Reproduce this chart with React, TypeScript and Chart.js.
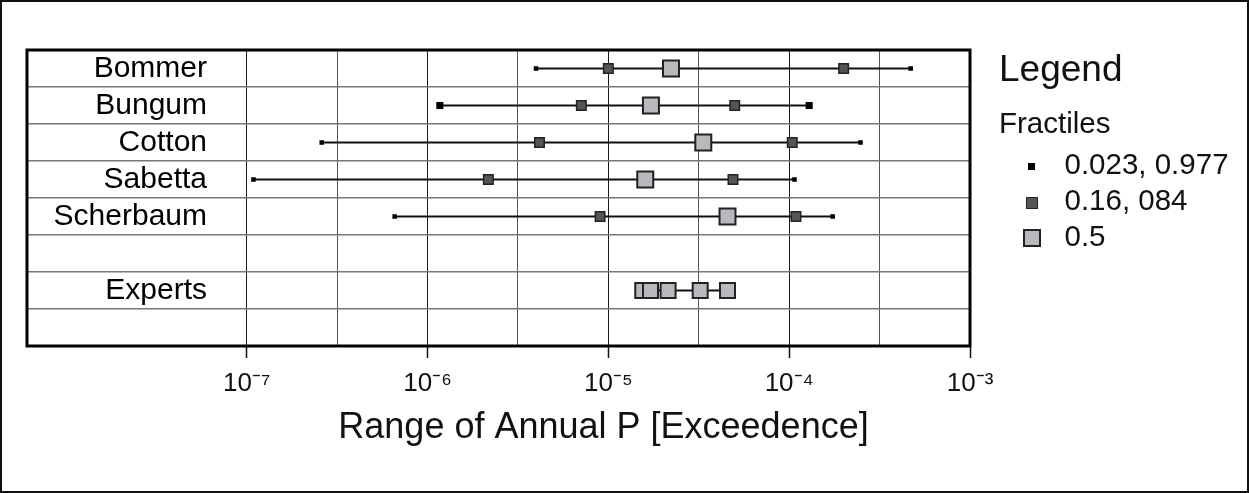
import React, { useEffect, useRef } from 'react';
import { Chart, registerables } from 'chart.js';

Chart.register(...registerables);

// ---------- data ----------
const rowLabels = ['Bommer', 'Bungum', 'Cotton', 'Sabetta', 'Scherbaum', ' ', 'Experts', '  '];
const models = ['Bommer', 'Bungum', 'Cotton', 'Sabetta', 'Scherbaum'];
const p023 = [3.98e-6, 1.17e-6, 2.6e-7, 1.09e-7, 6.58e-7];
const p16 = [1.0e-5, 7.09e-6, 4.16e-6, 2.17e-6, 9.0e-6];
const p50 = [2.22e-5, 1.72e-5, 3.35e-5, 1.6e-5, 4.56e-5];
const p84 = [2.0e-4, 5.0e-5, 1.04e-4, 4.89e-5, 1.09e-4];
const p977 = [4.7e-4, 1.29e-4, 2.48e-4, 1.07e-4, 1.74e-4];
const expertsLabel = 'Experts';
const expertMedians = [1.55e-5, 1.71e-5, 2.14e-5, 3.22e-5, 4.56e-5];
const decadeExponents = [-7, -6, -5, -4, -3];
const halfDecadeExponents = [-6.5, -5.5, -4.5, -3.5];
const axisMinExponent = -8.215;
const axisTitle = 'Range of Annual P [Exceedence]';
const legendTitle = 'Legend';
const legendSubtitle = 'Fractiles';
const fractileLabels = ['0.023, 0.977', '0.16, 084', '0.5'];

// ---------- styles ----------
const FONT = "'Liberation Sans', Arial, Helvetica, sans-serif";
const BLACK = '#000000';
const DARK = '#555558';
const LIGHT = '#b9b9bd';
const EDGE = '#222222';
const LINE = '#111111';
const R_EXT = 3.2;
const R_EXT_BIG = 5;
const R_MID = 6.7;
const R_MED = 11.3;
const R_EXPERT = 10.6;
const bigExtremeModels = ['Bungum'];
const Y_LABEL_SIZE = 30;
const LABEL_RIGHT_OFFSET = 180; // right edge of row labels, from the plot's left edge
const PLOT_LEFT = 27;

const SUP: Record<string, string> = {
  '-': '\u207B', '0': '\u2070', '1': '\u00B9', '2': '\u00B2', '3': '\u00B3',
  '4': '\u2074', '5': '\u2075', '6': '\u2076', '7': '\u2077', '8': '\u2078', '9': '\u2079',
};
const sup = (s: string) => s.split('').map((c) => SUP[c] ?? c).join('');

const gridValues = [...decadeExponents, ...halfDecadeExponents]
  .sort((a, b) => a - b)
  .map((e) => Math.pow(10, e));

const isDecade = (v: number) => {
  const l = Math.log10(v);
  return Math.abs(l - Math.round(l)) < 1e-6;
};

const framePlugin = {
  id: 'frame',
  afterDraw(chart: any) {
    const { ctx, chartArea: a } = chart;
    ctx.save();
    ctx.strokeStyle = '#000';
    ctx.lineWidth = 3;
    ctx.strokeRect(a.left, a.top, a.right - a.left, a.bottom - a.top);
    ctx.restore();
  },
};

export default function App() {
  const ref = useRef<HTMLCanvasElement | null>(null);

  useEffect(() => {
    if (!ref.current) return;

    // widest row label, so mirrored labels can be right-aligned
    const mctx = document.createElement('canvas').getContext('2d')!;
    mctx.font = `${Y_LABEL_SIZE}px ${FONT}`;
    const widest = Math.max(...rowLabels.map((l) => mctx.measureText(l).width));

    const modelDatasets = models.map((m, i) => {
      const vals = [p023[i], p16[i], p50[i], p84[i], p977[i]];
      const ext = bigExtremeModels.includes(m) ? R_EXT_BIG : R_EXT;
      return {
        label: m,
        data: vals.map((v) => ({ x: v, y: m })),
        showLine: true,
        borderColor: LINE,
        borderWidth: 2,
        pointStyle: 'rect',
        pointRadius: [ext, R_MID, R_MED, R_MID, ext],
        pointBackgroundColor: [BLACK, DARK, LIGHT, DARK, BLACK],
        pointBorderColor: [BLACK, EDGE, EDGE, EDGE, BLACK],
        pointBorderWidth: [0, 1.5, 2, 1.5, 0],
      };
    });

    const expertsDataset = {
      label: expertsLabel,
      data: expertMedians.map((v) => ({ x: v, y: expertsLabel })),
      showLine: true,
      borderColor: LINE,
      borderWidth: 2,
      pointStyle: 'rect',
      pointRadius: R_EXPERT,
      pointBackgroundColor: LIGHT,
      pointBorderColor: EDGE,
      pointBorderWidth: 2,
    };

    const chart = new Chart(ref.current, {
      type: 'scatter',
      data: { datasets: [...modelDatasets, expertsDataset] as any },
      plugins: [framePlugin],
      options: {
        animation: false,
        responsive: false,
        events: [],
        layout: { padding: { top: 50, bottom: 43.8, left: 0, right: 0 } },
        plugins: {
          legend: { display: false },
          tooltip: { enabled: false },
          title: {
            display: true,
            position: 'bottom',
            text: axisTitle,
            color: '#111',
            padding: 0,
            font: { family: FONT, size: 36, weight: 'normal', lineHeight: 1.2 },
          },
        },
        scales: {
          x: {
            type: 'logarithmic',
            min: Math.pow(10, axisMinExponent),
            max: Math.pow(10, decadeExponents[decadeExponents.length - 1]),
            afterBuildTicks: (scale: any) => {
              scale.ticks = gridValues.map((v) => ({ value: v, major: false }));
            },
            ticks: {
              autoSkip: false,
              maxRotation: 0,
              minRotation: 0,
              padding: 10,
              color: '#111',
              font: { family: FONT, size: 26, lineHeight: 1.2 },
              callback: (value: any) => {
                const v = Number(value);
                if (!isDecade(v)) return '';
                return '10' + sup(String(Math.round(Math.log10(v))));
              },
            },
            grid: {
              color: (ctx: any) => (ctx.tick && isDecade(ctx.tick.value) ? '#1a1a1a' : '#555'),
              lineWidth: 1,
              tickLength: 12,
              tickWidth: 1.5,
              tickColor: (ctx: any) => (ctx.tick && isDecade(ctx.tick.value) ? '#111' : 'rgba(0,0,0,0)'),
            },
            border: { display: false },
            afterFit: (s: any) => {
              s.height = 60;
            },
          },
          y: {
            type: 'category',
            labels: rowLabels,
            offset: true,
            grid: { offset: true, color: '#777', lineWidth: 1.5, drawTicks: false },
            border: { display: false },
            ticks: {
              autoSkip: false,
              mirror: true,
              crossAlign: 'far',
              padding: LABEL_RIGHT_OFFSET - widest,
              color: '#000',
              font: { family: FONT, size: Y_LABEL_SIZE, lineHeight: 1.2 },
            },
            afterFit: (s: any) => {
              s.width = PLOT_LEFT;
            },
          },
          y2: {
            type: 'linear',
            position: 'right',
            display: true,
            grid: { display: false, drawTicks: false },
            ticks: { display: false },
            border: { display: false },
            afterFit: (s: any) => {
              s.width = 237;
            },
          },
        },
      } as any,
    });

    return () => chart.destroy();
  }, []);

  const textBase: React.CSSProperties = {
    position: 'absolute',
    fontFamily: FONT,
    color: '#111',
    lineHeight: 1,
    whiteSpace: 'nowrap',
  };
  const markerStyles: React.CSSProperties[] = [
    { width: 7, height: 7, background: BLACK, boxSizing: 'border-box' },
    { width: 12, height: 12, background: DARK, border: `1.5px solid ${EDGE}`, boxSizing: 'border-box' },
    { width: 18, height: 18, background: LIGHT, border: `2px solid ${EDGE}`, boxSizing: 'border-box' },
  ];
  const itemCenters = [166.7, 203, 238];
  const itemBaselines = [174.3, 210, 246];
  const ITEM_SIZE = 29.5;
  const asc = 0.8465;

  return (
    <div style={{ position: 'absolute', left: 0, top: 0, width: 1249, height: 493, background: '#fff', overflow: 'hidden' }}>
      <canvas ref={ref} width={1207} height={493} style={{ position: 'absolute', left: 0, top: 0 }} />
      <div style={{ ...textBase, left: 999, top: 81.7 - 37 * asc, fontSize: 37 }}>{legendTitle}</div>
      <div style={{ ...textBase, left: 999, top: 132.7 - 29.5 * asc, fontSize: 29.5 }}>{legendSubtitle}</div>
      {fractileLabels.map((lab, i) => (
        <React.Fragment key={lab}>
          <div
            style={{
              position: 'absolute',
              left: 1031.7 - (markerStyles[i].width as number) / 2,
              top: itemCenters[i] - (markerStyles[i].height as number) / 2,
              ...markerStyles[i],
            }}
          />
          <div style={{ ...textBase, left: 1064.5, top: itemBaselines[i] - ITEM_SIZE * asc, fontSize: ITEM_SIZE }}>{lab}</div>
        </React.Fragment>
      ))}
      <div
        style={{
          position: 'absolute',
          left: 0,
          top: 0,
          width: 1249,
          height: 493,
          border: '2px solid #111',
          boxSizing: 'border-box',
          pointerEvents: 'none',
        }}
      />
    </div>
  );
}
